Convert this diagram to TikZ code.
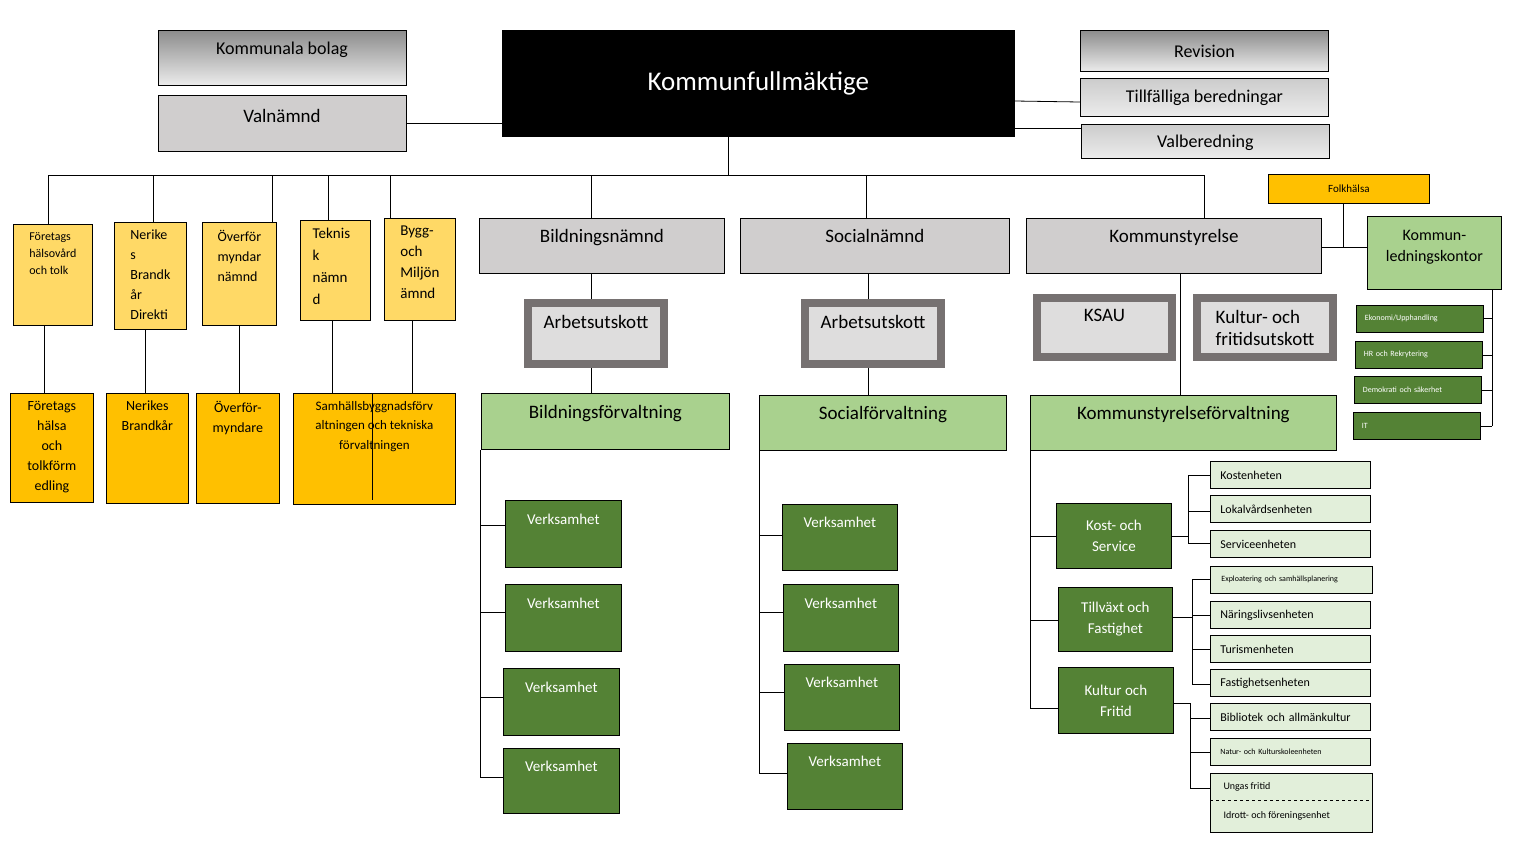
\documentclass[tikz,border=0pt]{standalone}
\usepackage{fontspec}
\setmainfont{Carlito}
\definecolor{ljusgul}{HTML}{FFD966}
\definecolor{gul}{HTML}{FFC000}
\definecolor{ljusgra}{HTML}{D0CECE}
\definecolor{morkgra}{HTML}{767171}
\definecolor{ljusgron}{HTML}{A9D18E}
\definecolor{morkgron}{HTML}{548235}
\definecolor{blekgron}{HTML}{E2EFDA}
\tikzset{
  box/.style={draw, thick, anchor=north west, inner sep=2pt, align=center},
  topbox/.style={box, top color=gray!90, bottom color=gray!15, font=\fontsize{18}{20}\selectfont},
  nbox/.style={box, fill=ljusgra, font=\fontsize{19}{22}\selectfont},
  ybox/.style={box, fill=ljusgul},
  yybox/.style={box, fill=gul},
  ytxt/.style={anchor=north, align=left, inner sep=0pt, font=\fontsize{14}{20}\selectfont},
  fbox/.style={box, fill=ljusgron, font=\fontsize{19}{22}\selectfont},
  vbox/.style={box, fill=morkgron, text=white, font=\fontsize{15}{21}\selectfont},
  ubox/.style={box, fill=blekgron, font=\fontsize{12}{14}\selectfont, align=left, text width=140pt},
  sbox/.style={box, fill=morkgron, text=white, font=\fontsize{8}{10}\selectfont, align=left, text width=110pt},
  au/.style={box, line width=8pt, draw=morkgra, fill=ljusgra!70, font=\fontsize{19}{22}\selectfont},
  ln/.style={thick}
}
\begin{document}
\begin{tikzpicture}[x=1pt, y=-1pt]
\useasboundingbox (0,0) rectangle (1521,852);

% top row
\node[topbox, minimum width=248pt, minimum height=55pt, anchor=north west] (bolag) at (158,30) {};
\node at (282,50) {\fontsize{18}{20}\selectfont Kommunala bolag};
\node[nbox, minimum width=248pt, minimum height=56pt] (val) at (158,95) {};
\node at (282,116) {\fontsize{19}{22}\selectfont Valnämnd};
\node[box, fill=black, text=white, minimum width=512pt, minimum height=106pt, font=\fontsize{27}{30}\selectfont] (kf) at (502,30) {Kommunfullmäktige};
\node[topbox, minimum width=248pt, minimum height=41pt] (rev) at (1080,30) {Revision};
\node[topbox, minimum width=248pt, minimum height=38pt, top color=gray!40] (till) at (1080,78) {Tillfälliga beredningar};
\node[topbox, minimum width=248pt, minimum height=34pt, top color=gray!40, text depth=-8pt] (valb) at (1081,124) {Valberedning};
\draw[ln] (val.east) -- (kf.west |- val.east);
\draw[ln] (kf.east |- 0,101) -- (till.west |- 0,102);
\draw[ln] (kf.east |- 0,128) -- (valb.west |- 0,128);

% main bus
\coordinate (bus) at (728,175);
\draw[ln] (kf.south -| bus) -- (bus);
\draw[ln] (48,175) -- (1204,175);

% yellow boxes
\node[ybox, minimum width=79pt, minimum height=101pt] (ftop) at (13,224) {};
\node[ytxt, font=\fontsize{12}{17}\selectfont] at ([yshift=-8pt]ftop.north) {Företags\\hälsovård\\och tolk};
\node[ybox, minimum width=72pt, minimum height=107pt] (ntop) at (114,222) {};
\node[ytxt] at ([yshift=-8pt]ntop.north) {Nerike\\s\\Brandk\\år\\Direkti};
\node[ybox, minimum width=74pt, minimum height=103pt] (otop) at (202,222) {};
\node[ytxt] at ([yshift=-8pt]otop.north) {Överför\\myndar\\nämnd};
\node[ybox, minimum width=70pt, minimum height=100pt] (ttop) at (300,220) {};
\node[ytxt, font=\fontsize{15}{22}\selectfont] at ([yshift=-8pt,xshift=-4pt]ttop.north) {Teknis\\k\\nämn\\d};
\node[ybox, minimum width=71pt, minimum height=102pt] (btop) at (384,218) {};
\node[ytxt, font=\fontsize{15}{21}\selectfont] at ([yshift=-8pt]btop.north) {Bygg-\\och\\Miljön\\ämnd};
\foreach \n/\x in {ftop/48,ntop/153,otop/272,ttop/328,btop/390}
  \draw[ln] (\x,175) -- (\n.north -| \x,0);

\node[yybox, minimum width=83pt, minimum height=109pt] (fbot) at (10,393) {};
\node[ytxt, align=center] at ([yshift=-8pt]fbot.north) {Företags\\hälsa\\och\\tolkförm\\edling};
\node[yybox, minimum width=82pt, minimum height=110pt] (nbot) at (106,393) {};
\node[ytxt, align=center] at ([yshift=-8pt]nbot.north) {Nerikes\\Brandkår};
\node[yybox, minimum width=83pt, minimum height=110pt] (obot) at (196,393) {};
\node[ytxt, align=center] at ([yshift=-8pt]obot.north) {Överför-\\myndare};
\node[yybox, minimum width=162pt, minimum height=111pt] (sbot) at (293,393) {};
\node[ytxt, align=center, font=\fontsize{13}{19.5}\selectfont] at ([yshift=-8pt]sbot.north) {Samhällsbyggnadsförv\\altningen och tekniska\\förvaltningen};
\draw[ln] (ftop.south -| 44,0) -- (fbot.north -| 44,0);
\draw[ln] (ntop.south -| 145,0) -- (nbot.north -| 145,0);
\draw[ln] (otop.south -| 239,0) -- (obot.north -| 239,0);
\draw[ln] (ttop.south -| 332,0) -- (sbot.north -| 332,0);
\draw[ln] (btop.south -| 412,0) -- (sbot.north -| 412,0);
\draw[ln] (372,393) -- (372,500);

% nämnder
\node[nbox, minimum width=245pt, minimum height=55pt, text depth=20pt] (bn) at (479,218) {Bildningsnämnd};
\node[nbox, minimum width=269pt, minimum height=55pt, text depth=20pt] (sn) at (740,218) {Socialnämnd};
\node[nbox, minimum width=295pt, minimum height=55pt, text depth=20pt] (ks) at (1026,218) {Kommunstyrelse};
\draw[ln] (591,175) -- (bn.north -| 591,0);
\draw[ln] (866,175) -- (sn.north -| 866,0);
\draw[ln] (1204,175) -- (ks.north -| 1204,0);

\node[au, minimum width=136pt, minimum height=61pt, text depth=24pt] (bau) at (524,299) {Arbetsutskott};
\node[au, minimum width=136pt, minimum height=61pt, text depth=24pt] (sau) at (801,299) {Arbetsutskott};
\node[au, minimum width=135pt, minimum height=59pt, text depth=24pt] (ksau) at (1033,294) {KSAU};
\node[au, minimum width=136pt, minimum height=59pt, align=left] (kfu) at (1193,294) {Kultur- och\\fritidsutskott};

\node[fbox, minimum width=248pt, minimum height=56pt, text depth=20pt] (bf) at (481,393) {Bildningsförvaltning};
\node[fbox, minimum width=247pt, minimum height=55pt, text depth=20pt] (sf) at (759,395) {Socialförvaltning};
\node[fbox, minimum width=306pt, minimum height=55pt, text depth=20pt] (kf2) at (1030,395) {Kommunstyrelseförvaltning};
\draw[ln] (bn.south -| 591,0) -- (bau.north -| 591,0);
\draw[ln] (bau.south -| 591,0) -- (bf.north -| 591,0);
\draw[ln] (sn.south -| 868,0) -- (sau.north -| 868,0);
\draw[ln] (sau.south -| 868,0) -- (sf.north -| 868,0);
\draw[ln] (ks.south -| 1180,0) -- (kf2.north -| 1180,0);

% verksamheter
\foreach \i/\x/\y/\h/\t in {1/505/500/67/525, 2/505/584/67/612, 3/503/668/67/697, 4/503/748/65/777}{
  \node[vbox, minimum width=116pt, minimum height=\h pt, text depth=30pt] (bv\i) at (\x,\y) {Verksamhet};
  \draw[ln] (480,\t) -- (bv\i.west |- 0,\t);
}
\draw[ln] (bf.south -| 480,0) -- (480,777);
\foreach \i/\x/\y/\h/\t in {1/782/504/66/535, 2/783/584/67/612, 3/784/664/66/692, 4/787/743/66/773}{
  \node[vbox, minimum width=115pt, minimum height=\h pt, text depth=30pt] (sv\i) at (\x,\y) {Verksamhet};
  \draw[ln] (759,\t) -- (sv\i.west |- 0,\t);
}
\draw[ln] (sf.south -| 759,0) -- (759,773);

\node[vbox, minimum width=115pt, minimum height=65pt] (kost) at (1056,503) {Kost- och\\Service};
\node[vbox, minimum width=114pt, minimum height=64pt] (tv) at (1058,587) {Tillväxt och\\Fastighet};
\node[vbox, minimum width=115pt, minimum height=66pt] (kult) at (1058,667) {Kultur och\\Fritid};
\draw[ln] (kf2.south -| 1030,0) -- (1030,708);
\draw[ln] (1030,536) -- (kost.west |- 0,536);
\draw[ln] (1030,620) -- (tv.west |- 0,620);
\draw[ln] (1030,708) -- (kult.west |- 0,708);

% enheter
\foreach \n/\y/\t in {k1/461/Kostenheten, k2/495/Lokalvårdsenheten, k3/530/Serviceenheten,
  t2/601/Näringslivsenheten, t3/635/Turismenheten, t4/669/Fastighetsenheten, c1/703/Bibliotek och allmänkultur}
  \node[ubox, minimum width=160pt, minimum height=27pt] (\n) at (1210,\y) {\t};
\node[ubox, minimum width=162pt, minimum height=27pt, font=\fontsize{8}{10}\selectfont] (t1) at (1210,566) {Exploatering och samhällsplanering};
\node[ubox, minimum width=160pt, minimum height=27pt, font=\fontsize{8}{10}\selectfont] (c2) at (1210,738) {Natur- och Kulturskoleenheten};
\node[ubox, minimum width=162pt, minimum height=59pt, text depth=30pt] (c3) at (1210,773) {};
\node[anchor=west, font=\fontsize{10}{12}\selectfont] (ung) at (1220,787) {Ungas fritid};
\node[anchor=west, font=\fontsize{10}{12}\selectfont] (idr) at (1220,816) {Idrott- och föreningsenhet};
\draw[ln, dashed] (c3.west |- 0,800) -- (c3.east |- 0,800);

\draw[ln] (kost.east |- 0,536) -- (1188,536);
\draw[ln] (1188,475) -- (1188,543);
\foreach \n/\y in {k1/475,k2/511,k3/543} \draw[ln] (1188,\y) -- (\n.west |- 0,\y);
\draw[ln] (tv.east |- 0,617) -- (1192,617);
\draw[ln] (1192,579) -- (1192,684);
\foreach \n/\y in {t1/579,t2/615,t3/649,t4/684} \draw[ln] (1192,\y) -- (\n.west |- 0,\y);
\draw[ln] (kult.east |- 0,703) -- (1190,703) -- (1190,788);
\foreach \n/\y in {c1/718,c2/752,c3/788} \draw[ln] (1190,\y) -- (\n.west |- 0,\y);

% kommunledningskontor
\node[box, fill=gul, minimum width=161pt, minimum height=29pt, font=\fontsize{11}{13}\selectfont] (folk) at (1268,174) {Folkhälsa};
\node[fbox, minimum width=134pt, minimum height=73pt, font=\fontsize{16}{21}\selectfont, text depth=14pt] (klk) at (1367,216) {Kommun-\\ledningskontor};
\draw[ln] (ks.east |- 0,247) -- (klk.west |- 0,247);
\draw[ln] (folk.south -| 1343,0) -- (1343,247);
\foreach \n/\x/\y/\t in {ek/1356/305/{Ekonomi/Upphandling}, hr/1355/341/HR och Rekrytering, dem/1354/376/Demokrati och säkerhet, it/1353/412/IT}{
  \node[sbox, minimum width=127pt, minimum height=27pt] (\n) at (\x,\y) {\t};
}
\draw[ln] (klk.south -| 1492,0) -- (1492,426);
\foreach \n/\y in {ek/318,hr/355,dem/390,it/426} \draw[ln] (\n.east |- 0,\y) -- (1492,\y);
\end{tikzpicture}
\end{document}
